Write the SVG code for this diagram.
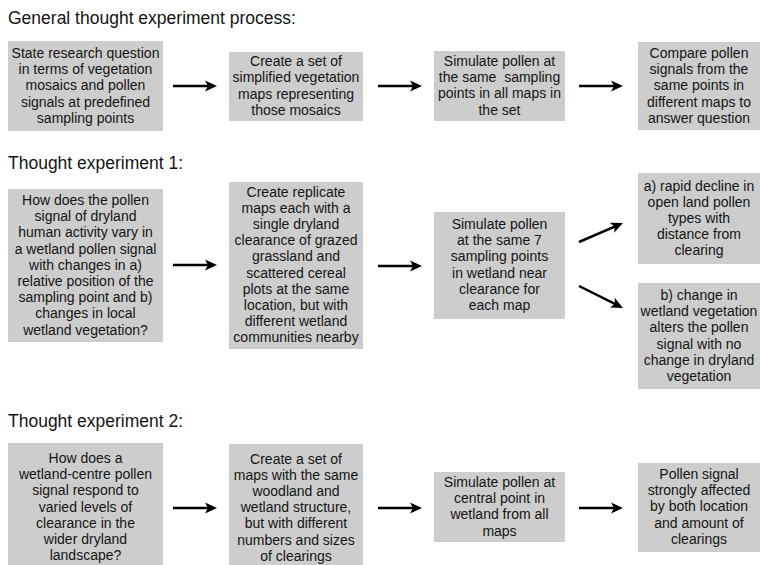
<svg xmlns="http://www.w3.org/2000/svg" width="760" height="565" viewBox="0 0 760 565">
<style>
.bg{fill:#ffffff}
.box{fill:#cdcdcd}
.t{font-family:"Liberation Sans",Arial,sans-serif;font-size:14px;fill:#141414;text-anchor:middle}
.h{font-family:"Liberation Sans",Arial,sans-serif;font-size:17.5px;fill:#141414}
.c{stroke:#000;stroke-width:2.5;fill:none;marker-end:url(#ah)}
</style>
<defs>
<marker id="ah" viewBox="0 0 12 12" refX="8" refY="6" markerWidth="12" markerHeight="12" markerUnits="userSpaceOnUse" orient="auto">
<path d="M0,0.5 L12,6 L0,11.5 L3,6 Z" fill="#000"/>
</marker>
</defs>
<rect class="bg" x="0" y="0" width="760" height="565"/>

<text class="h" x="8" y="24">General thought experiment process:</text>
<text class="h" x="8" y="169">Thought experiment 1:</text>
<text class="h" x="8" y="427">Thought experiment 2:</text>

<g id="g1">
<rect class="box" x="8" y="41" width="155" height="90"/>
<text class="t" x="85.5" y="58"><tspan x="85.5">State research question</tspan><tspan x="85.5" dy="16.2">in terms of vegetation</tspan><tspan x="85.5" dy="16.2">mosaics and pollen</tspan><tspan x="85.5" dy="16.2">signals at predefined</tspan><tspan x="85.5" dy="16.2">sampling points</tspan></text>
</g>
<g id="g2">
<rect class="box" x="229" y="52" width="134" height="69"/>
<text class="t" x="296" y="66.2"><tspan x="296">Create a set of</tspan><tspan x="296" dy="16.2">simplified vegetation</tspan><tspan x="296" dy="16.2">maps representing</tspan><tspan x="296" dy="16.2">those mosaics</tspan></text>
</g>
<g id="g3">
<rect class="box" x="434" y="51" width="131" height="70"/>
<text class="t" x="499.5" y="66"><tspan x="499.5">Simulate pollen at</tspan><tspan x="499.5" dy="16.2" xml:space="preserve">the same  sampling</tspan><tspan x="499.5" dy="16.2">points in all maps in</tspan><tspan x="499.5" dy="16.2">the set</tspan></text>
</g>
<g id="g4">
<rect class="box" x="638" y="42" width="122" height="88"/>
<text class="t" x="699" y="58"><tspan x="699">Compare pollen</tspan><tspan x="699" dy="16.2">signals from the</tspan><tspan x="699" dy="16.2">same points in</tspan><tspan x="699" dy="16.2">different maps to</tspan><tspan x="699" dy="16.2">answer question</tspan></text>
</g>

<g id="e1a">
<rect class="box" x="8" y="189" width="155" height="153"/>
<text class="t" x="85.5" y="205"><tspan x="85.5">How does the pollen</tspan><tspan x="85.5" dy="16.2">signal of dryland</tspan><tspan x="85.5" dy="16.2">human activity vary in</tspan><tspan x="85.5" dy="16.2">a wetland pollen signal</tspan><tspan x="85.5" dy="16.2">with changes in a)</tspan><tspan x="85.5" dy="16.2">relative position of the</tspan><tspan x="85.5" dy="16.2">sampling point and b)</tspan><tspan x="85.5" dy="16.2">changes in local</tspan><tspan x="85.5" dy="16.2">wetland vegetation?</tspan></text>
</g>
<g id="e1b">
<rect class="box" x="229" y="182" width="134" height="167"/>
<text class="t" x="296" y="196.5"><tspan x="296">Create replicate</tspan><tspan x="296" dy="16.2">maps each with a</tspan><tspan x="296" dy="16.2">single dryland</tspan><tspan x="296" dy="16.2">clearance of grazed</tspan><tspan x="296" dy="16.2">grassland and</tspan><tspan x="296" dy="16.2">scattered cereal</tspan><tspan x="296" dy="16.2">plots at the same</tspan><tspan x="296" dy="16.2">location, but with</tspan><tspan x="296" dy="16.2">different wetland</tspan><tspan x="296" dy="16.2">communities nearby</tspan></text>
</g>
<g id="e1c">
<rect class="box" x="434" y="212" width="131" height="107"/>
<text class="t" x="499.5" y="229"><tspan x="499.5">Simulate pollen</tspan><tspan x="499.5" dy="16.2">at the same 7</tspan><tspan x="499.5" dy="16.2">sampling points</tspan><tspan x="499.5" dy="16.2">in wetland near</tspan><tspan x="499.5" dy="16.2">clearance for</tspan><tspan x="499.5" dy="16.2">each map</tspan></text>
</g>
<g id="e1d">
<rect class="box" x="638" y="173" width="122" height="91"/>
<text class="t" x="699" y="190.5"><tspan x="699">a) rapid decline in</tspan><tspan x="699" dy="16.2">open land pollen</tspan><tspan x="699" dy="16.2">types with</tspan><tspan x="699" dy="16.2">distance from</tspan><tspan x="699" dy="16.2">clearing</tspan></text>
</g>
<g id="e1e">
<rect class="box" x="638" y="283" width="122" height="106"/>
<text class="t" x="699" y="300"><tspan x="699">b) change in</tspan><tspan x="699" dy="16.2">wetland vegetation</tspan><tspan x="699" dy="16.2">alters the pollen</tspan><tspan x="699" dy="16.2">signal with no</tspan><tspan x="699" dy="16.2">change in dryland</tspan><tspan x="699" dy="16.2">vegetation</tspan></text>
</g>

<g id="e2a">
<rect class="box" x="8" y="443" width="155" height="130"/>
<text class="t" x="85.5" y="463"><tspan x="85.5">How does a</tspan><tspan x="85.5" dy="16.2">wetland-centre pollen</tspan><tspan x="85.5" dy="16.2">signal respond to</tspan><tspan x="85.5" dy="16.2">varied levels of</tspan><tspan x="85.5" dy="16.2">clearance in the</tspan><tspan x="85.5" dy="16.2">wider dryland</tspan><tspan x="85.5" dy="16.2">landscape?</tspan></text>
</g>
<g id="e2b">
<rect class="box" x="229" y="444" width="134" height="130"/>
<text class="t" x="296" y="463.5"><tspan x="296">Create a set of</tspan><tspan x="296" dy="16.2">maps with the same</tspan><tspan x="296" dy="16.2">woodland and</tspan><tspan x="296" dy="16.2">wetland structure,</tspan><tspan x="296" dy="16.2">but with different</tspan><tspan x="296" dy="16.2">numbers and sizes</tspan><tspan x="296" dy="16.2">of clearings</tspan></text>
</g>
<g id="e2c">
<rect class="box" x="434" y="472" width="131" height="70"/>
<text class="t" x="499.5" y="487"><tspan x="499.5">Simulate pollen at</tspan><tspan x="499.5" dy="16.2">central point in</tspan><tspan x="499.5" dy="16.2">wetland from all</tspan><tspan x="499.5" dy="16.2">maps</tspan></text>
</g>
<g id="e2d">
<rect class="box" x="638" y="463" width="122" height="89"/>
<text class="t" x="699" y="479"><tspan x="699">Pollen signal</tspan><tspan x="699" dy="16.2">strongly affected</tspan><tspan x="699" dy="16.2">by both location</tspan><tspan x="699" dy="16.2">and amount of</tspan><tspan x="699" dy="16.2">clearings</tspan></text>
</g>

<g id="connectors">
<path class="c" d="M173,86 H213"/>
<path class="c" d="M378,86 H418"/>
<path class="c" d="M579,86 H619"/>
<path class="c" d="M173,265 H213"/>
<path class="c" d="M378,266 H418"/>
<path class="c" d="M579,242 L619.3,224.6"/>
<path class="c" d="M579,286 L619.4,306.2"/>
<path class="c" d="M173,508 H213"/>
<path class="c" d="M378,508 H418"/>
<path class="c" d="M579,508 H619"/>
</g>
</svg>
